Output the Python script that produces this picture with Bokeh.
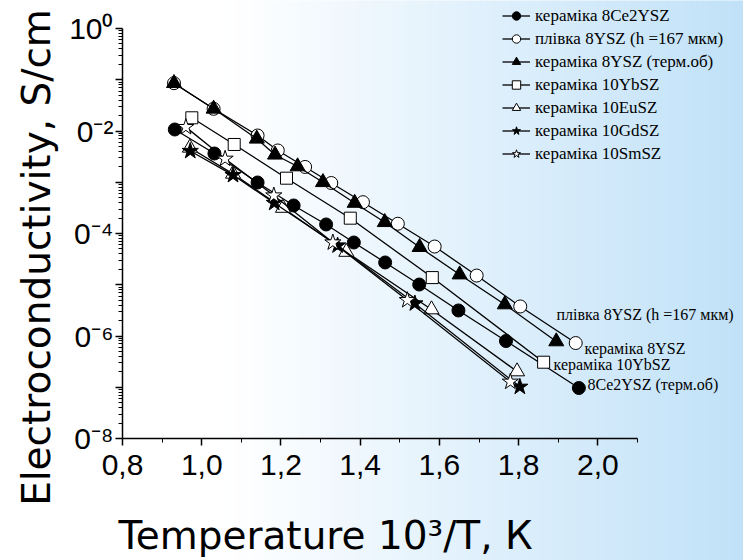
import numpy as np
from bokeh.plotting import figure
from bokeh.models import FixedTicker, Legend, LegendItem, Label, BoxAnnotation, Range1d
from bokeh.embed import file_html
from bokeh.resources import INLINE

# ---- data: x = 10^3/T (1/K), y = conductivity (S/cm) ----
x_8ce2ysz = [0.932, 1.032, 1.141, 1.232, 1.314, 1.384, 1.463, 1.549, 1.648, 1.768, 1.952]
s_8ce2ysz = [1.07e-2, 3.64e-3, 9.89e-4, 3.52e-4, 1.50e-4, 6.67e-5, 2.72e-5, 1.01e-5, 3.15e-6, 7.98e-7, 9.66e-8]

x_film8ysz = [0.930, 1.030, 1.141, 1.192, 1.261, 1.327, 1.407, 1.495, 1.588, 1.694, 1.804, 1.944]
s_film8ysz = [8.57e-2, 2.71e-2, 8.17e-3, 4.17e-3, 1.99e-3, 9.66e-4, 4.08e-4, 1.55e-4, 5.57e-5, 1.51e-5, 3.77e-6, 7.29e-7]

x_8ysz = [0.930, 1.030, 1.139, 1.185, 1.242, 1.306, 1.386, 1.462, 1.550, 1.651, 1.765, 1.895]
s_8ysz = [8.57e-2, 2.71e-2, 7.05e-3, 3.44e-3, 2.03e-3, 1.00e-3, 3.94e-4, 1.66e-4, 5.41e-5, 1.58e-5, 4.12e-6, 7.82e-7]

x_10ybsz = [0.975, 1.082, 1.214, 1.375, 1.582, 1.863]
s_10ybsz = [1.81e-2, 5.46e-3, 1.20e-3, 1.99e-4, 1.38e-5, 3.08e-7]

x_10eusz = [0.970, 1.079, 1.205, 1.365, 1.580, 1.796]
s_10eusz = [4.70e-3, 1.46e-3, 3.15e-4, 4.36e-5, 3.29e-6, 2.03e-7]

x_10gdsz = [0.971, 1.079, 1.183, 1.343, 1.538, 1.803]
s_10gdsz = [4.07e-3, 1.38e-3, 3.94e-4, 5.83e-5, 4.31e-6, 1.02e-7]

x_10smsz = [0.960, 1.059, 1.182, 1.331, 1.519, 1.779]
s_10smsz = [1.19e-2, 2.87e-3, 5.51e-4, 6.67e-5, 5.00e-6, 1.28e-7]

series_names = ["кераміка 8Ce2YSZ", "плівка 8YSZ (h =167 мкм)", "кераміка 8YSZ (терм.об)",
                "кераміка 10YbSZ", "кераміка 10EuSZ", "кераміка 10GdSZ", "кераміка 10SmSZ"]

x_ticks = [0.8, 1.0, 1.2, 1.4, 1.6, 1.8, 2.0]
x_tick_labels = ["0,8", "1,0", "1,2", "1,4", "1,6", "1,8", "2,0"]
x_minor_ticks = [0.9, 1.1, 1.3, 1.5, 1.7, 1.9, 2.1]
x_axis_bounds = (0.8, 2.1)

y_ticks = [1e-8, 1e-7, 1e-6, 1e-5, 1e-4, 1e-3, 1e-2, 1e-1, 1.0]
y_tick_labels = ["0⁻⁸", "", "0⁻⁶", "", "0⁻⁴", "", "0⁻²", "", "10⁰"]
y_axis_bounds = (1e-8, 1.0)

x_title = "Temperature 10³/T, К"
y_title = "Electroconductivity, S/cm"

end_labels = ["плівка 8YSZ (h =167 мкм)", "кераміка 8YSZ", "кераміка 10YbSZ", "8Ce2YSZ (терм.об)"]

# ---- layout: the frame fills the whole canvas; axes are pinned inside it ----
W, H = 743, 560
AX_L, AX_R, AX_T, AX_B = 122, 637, 28, 438   # canvas pixels of the axis box
kx = (AX_R - AX_L) / (x_axis_bounds[1] - x_axis_bounds[0])
ky = (AX_B - AX_T) / 8.0  # px per decade
x_lo = x_axis_bounds[0] - AX_L / kx
x_hi = x_axis_bounds[1] + (W - AX_R) / kx
y_lo = 10 ** (-8.0 - (H - AX_B) / ky)
y_hi = 10 ** (AX_T / ky)

p = figure(width=W, height=H, x_range=Range1d(x_lo, x_hi), y_range=Range1d(y_lo, y_hi),
           y_axis_type="log", output_backend="svg", toolbar_location=None, title=None,
           min_border=0, min_border_left=0, min_border_right=0,
           min_border_top=0, min_border_bottom=0)
p.outline_line_color = None
p.background_fill_color = "white"
p.border_fill_color = "white"
p.xgrid.visible = False
p.ygrid.visible = False

# background gradient (white -> light blue, left to right)
x0_screen, x1_screen = 225, 743
c_end = np.array([192, 225, 248])
step = 6
for sx in range(0, W, step):
    cx = sx + step / 2
    t = min(max((cx - x0_screen) / (x1_screen - x0_screen), 0.0), 1.0)
    col = np.round(255 * (1 - t) + c_end * t).astype(int)
    p.add_layout(BoxAnnotation(left=sx, right=sx + step + 1, bottom=-5, top=H + 5,
                               left_units="screen", right_units="screen",
                               bottom_units="screen", top_units="screen",
                               fill_color="#%02x%02x%02x" % tuple(col), fill_alpha=1.0,
                               line_alpha=0, level="underlay"))

# axes
xa = p.xaxis[0]
xa.ticker = FixedTicker(ticks=x_ticks, minor_ticks=x_minor_ticks)
xa.major_label_overrides = dict(zip(x_ticks, x_tick_labels))
xa.fixed_location = y_axis_bounds[0]
xa.bounds = x_axis_bounds
xa.major_label_standoff = 9
ya = p.yaxis[0]
y_minor = [k * 10.0 ** e for e in range(-8, 0) for k in range(2, 10)]
ya.ticker = FixedTicker(ticks=y_ticks, minor_ticks=y_minor)
ya.major_label_overrides = dict(zip(y_ticks, y_tick_labels))
ya.fixed_location = x_axis_bounds[0]
ya.bounds = y_axis_bounds
ya.major_label_standoff = 2
for ax in (xa, ya):
    ax.axis_line_width = 1.5
    ax.axis_line_color = "black"
    ax.major_tick_line_width = 1.5
    ax.major_tick_line_color = "black"
    ax.major_tick_in = 0
    ax.major_tick_out = 7
    ax.minor_tick_in = 0
    ax.minor_tick_out = 4
    ax.minor_tick_line_color = "black"
    ax.minor_tick_line_width = 1
    ax.major_label_text_font = "Liberation Sans"
    ax.major_label_text_font_size = "30px"
    ax.major_label_text_color = "black"

# series
series = [
    (x_8ce2ysz, s_8ce2ysz, "circle", "black", 13),
    (x_film8ysz, s_film8ysz, "circle", "white", 13),
    (x_8ysz, s_8ysz, "triangle", "black", 15),
    (x_10ybsz, s_10ybsz, "square", "white", 12),
    (x_10eusz, s_10eusz, "triangle", "white", 15),
    (x_10gdsz, s_10gdsz, "star", "black", 17),
    (x_10smsz, s_10smsz, "star", "white", 17),
]
items = []
for name, (xs, ys, mk, fill, size) in zip(series_names, series):
    lr = p.line(xs, ys, line_color="black", line_width=1.3)
    sr = p.scatter(xs, ys, marker=mk, size=size, fill_color=fill, line_color="black", line_width=1)
    items.append(LegendItem(label=name, renderers=[lr, sr]))

legend = Legend(items=items, location=(502, 396), padding=0, margin=0, spacing=2,
                glyph_width=28, glyph_height=21, label_height=21, label_standoff=5,
                label_text_font="Liberation Serif", label_text_font_size="17px",
                label_text_color="black", background_fill_alpha=0, border_line_alpha=0)
p.add_layout(legend)

# axis titles
p.add_layout(Label(x=36, y=303, x_units="screen", y_units="screen", text=y_title,
                   angle=np.pi / 2, text_align="center", text_baseline="alphabetic",
                   text_font="DejaVu Sans", text_font_size="39px", text_color="black"))
p.add_layout(Label(x=118, y=25, x_units="screen", y_units="screen", text=x_title,
                   text_align="left", text_baseline="alphabetic",
                   text_font="DejaVu Sans", text_font_size="39px", text_color="black"))

# end-of-curve labels
end_pos = [(556, 246), (584, 212), (553, 196), (587, 176)]
for txt, (lx, ly) in zip(end_labels, end_pos):
    p.add_layout(Label(x=lx, y=ly, x_units="screen", y_units="screen", text=txt,
                       text_align="left", text_baseline="middle",
                       text_font="Liberation Serif", text_font_size="16px", text_color="black"))

with open("out.html", "w", encoding="utf-8") as f:
    f.write(file_html(p, INLINE))
